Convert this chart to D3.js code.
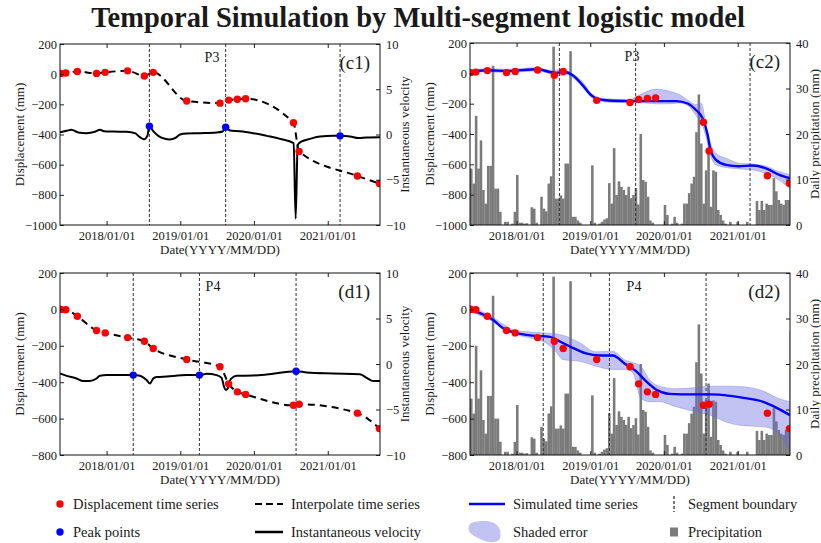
<!DOCTYPE html>
<html>
<head>
<meta charset="utf-8">
<script src="https://cdn.jsdelivr.net/npm/d3@7"></script>
<style>
  body { margin: 0; background: #fff; }
  svg { display: block; }
  text { font-family: "Liberation Serif", "Times New Roman", serif; fill: #1a1a1a; }
</style>
</head>
<body>
<svg id="chart" width="821" height="543"></svg>
<script>
const parse = d3.utcParse("%Y-%m-%d");

// ---- time frame shared by all panels ----
const timeDomain = ["2017-05-15", "2021-09-17"];
const yearTicks = ["2018-01-01", "2019-01-01", "2020-01-01", "2021-01-01"];

// ---- InSAR acquisitions (same dates for P3 and P4) ----
const obsDates = ["2017-05-19","2017-06-13","2017-08-09","2017-11-12","2017-12-25","2018-04-15",
  "2018-07-07","2018-08-20","2019-02-02","2019-07-17","2019-08-29","2019-10-11","2019-11-21",
  "2020-07-15","2020-08-12","2021-05-28","2021-09-14"];
const p3Disp = [5, 8, 18, 5, 12, 22, -12, 12, -178, -192, -172, -166, -163, -322, -512, -675, -725];
const p4Disp = [0, -2, -38, -116, -129, -155, -175, -215, -275, -315, -409, -453, -467, -527, -521, -570, -655];

// ---- segment boundaries and velocity peaks ----
const p3Segments = ["2018-08-01", "2019-08-14", "2021-03-03"];
const p3PeakVel = [0.92, 0.81, -0.15];
const p4Segments = ["2018-05-13", "2019-04-06", "2020-07-28"];
const p4PeakVel = [-1.22, -1.22, -0.79];

// ---- instantaneous velocity ----
const p3VelDates = ["2017-05-15","2017-06-17","2017-07-11","2017-08-14","2017-09-24","2017-11-04",
  "2017-11-29","2017-12-19","2018-02-03","2018-04-10","2018-05-21","2018-06-15","2018-07-05",
  "2018-07-22","2018-08-01","2018-08-20","2018-09-14","2018-10-17","2018-11-11","2018-12-06",
  "2018-12-31","2019-02-02","2019-04-09","2019-06-30","2019-07-30","2019-08-14","2019-09-05",
  "2019-10-24","2019-12-29","2020-03-04","2020-05-10","2020-07-16","2020-07-26","2020-08-05",
  "2020-08-25","2020-10-05","2020-11-24","2021-01-28","2021-03-03","2021-04-22","2021-06-02",
  "2021-07-13","2021-09-17"];
const p3Vel = [0.26, 0.41, 0.52, 0.22, 0.15, 0.3, 0.52, 0.37, 0.33, 0.3, 0.15, -0.3, -0.52,
  -0.15, 0.92, 0.37, -0.15, -0.48, -0.55, -0.41, 0, 0.11, 0.15, 0.22, 0.33, 0.81, 0.44,
  0.37, 0.15, -0.15, -0.48, -0.95, -9.3, -1.15, -0.77, -0.48, -0.22, -0.15, -0.15, -0.22, -0.4,
  -0.33, -0.3];

const p4VelDates = ["2017-05-15","2017-06-17","2017-08-05","2017-09-07","2017-10-10","2017-11-12",
  "2017-11-29","2018-01-01","2018-05-13","2018-06-15","2018-07-18","2018-08-04","2018-08-20",
  "2018-09-06","2018-10-26","2019-02-02","2019-04-06","2019-05-12","2019-06-30","2019-07-25",
  "2019-08-06","2019-08-16","2019-08-26","2019-09-08","2019-10-08","2019-12-29","2020-03-04",
  "2020-07-28","2020-09-19","2021-01-28","2021-06-10","2021-07-13","2021-08-15","2021-09-17"];
const p4Vel = [-1.04, -1.3, -1.59, -1.88, -1.88, -1.59, -1.3, -1.22, -1.22, -1.3, -1.77, -2.14,
  -1.59, -1.44, -1.37, -1.22, -1.22, -1.08, -1.22, -1.52, -2.5, -2.87, -2.61, -1.66, -1.3,
  -1.26, -1.15, -0.79, -0.93, -1.04, -1.12, -1.52, -1.88, -1.88];

// ---- simulated displacement (multi-segment logistic) ----
const p3SimDates = ["2017-05-15","2017-08-02","2017-11-17","2018-04-15","2018-06-15","2018-07-15",
  "2018-08-25","2018-10-06","2018-11-24","2019-01-05","2019-02-15","2019-04-22","2019-07-17",
  "2020-03-01","2020-04-28","2020-06-08","2020-07-11","2020-08-05","2020-08-17","2020-09-15",
  "2020-11-04","2021-01-07","2021-03-16","2021-05-21","2021-07-26","2021-09-17"];
const p3Sim = [9, 20, 16, 27, 9, 3, 9, -12, -78, -144, -172, -181, -183, -183, -199, -242, -297,
  -407, -494, -571, -604, -613, -608, -626, -669, -691];

const p3BandDates = ["2017-05-15","2017-08-02","2017-11-17","2018-04-15","2018-06-15","2018-08-01",
  "2018-09-06","2018-10-26","2018-11-28","2019-01-05","2019-02-15","2019-04-22","2019-07-17",
  "2019-08-16","2019-10-04","2019-11-23","2020-01-28","2020-03-18","2020-04-28","2020-06-08",
  "2020-07-05","2020-07-28","2020-08-17","2020-09-15","2020-11-04","2021-01-09","2021-03-16",
  "2021-05-21","2021-07-26","2021-09-17"];
const p3Upper = [18, 31, 27, 38, 20, 22, 16, -22, -62, -131, -162, -170, -172, -155, -122, -104,
  -118, -140, -177, -205, -199, -340, -453, -529, -560, -593, -598, -612, -648, -668];
const p3Lower = [0, 9, 5, 16, -2, -16, -10, -50, -98, -157, -183, -192, -192, -194, -196, -201,
  -201, -196, -212, -278, -332, -420, -534, -604, -621, -630, -637, -660, -705, -760];

const p4SimDates = ["2017-05-15","2017-06-30","2017-09-04","2017-10-24","2017-12-29","2018-03-21",
  "2018-06-15","2018-08-01","2018-10-06","2018-12-11","2019-02-15","2019-04-22","2019-06-27",
  "2019-08-16","2019-10-04","2019-11-23","2020-01-28","2020-05-23","2020-08-17","2020-11-24",
  "2021-01-28","2021-05-08","2021-07-13","2021-09-17"];
const p4Sim = [3, -19, -56, -102, -129, -144, -151, -175, -211, -242, -253, -253, -303, -339,
  -394, -440, -464, -467, -467, -475, -486, -508, -541, -581];

const p4BandDates = ["2017-05-15","2017-09-04","2017-12-29","2018-03-21","2018-05-26","2018-07-15",
  "2018-08-17","2018-11-08","2019-01-29","2019-04-22","2019-06-27","2019-07-30","2019-09-10",
  "2019-10-21","2019-12-09","2020-03-01","2020-05-23","2020-08-17","2020-11-24","2021-01-28",
  "2021-05-08","2021-07-13","2021-09-17"];
const p4Upper = [23, -43, -116, -125, -129, -135, -142, -182, -233, -230, -281, -292, -315, -385,
  -422, -436, -431, -422, -422, -425, -449, -485, -507];
const p4Lower = [-10, -65, -138, -160, -184, -233, -275, -285, -312, -330, -330, -348, -489, -507,
  -507, -535, -559, -581, -626, -639, -645, -672, -781];

// ---- daily precipitation, one bar per 12-day interval ----
const rainStart = "2017-05-15";
const rainStepDays = 12;
const rainfall = [12.4, 9.1, 24, 12.4, 18.6, 7.7, 4.7, 13, 13, 35, 8, 8, 2.9, 0, 0.7, 0.7, 0, 0.3,
  2.9, 11, 0.5, 0.5, 0.3, 0.4, 0, 3.9, 3.6, 0.5, 0, 6.2, 3.6, 3, 9.1, 10.7, 39.2, 5.8, 5.8, 6.5,
  5.8, 13.5, 13.5, 38.2, 1.8, 1.8, 1, 0.5, 0, 0, 0, 0, 13.1, 0.5, 0, 0.3, 0.7, 1.2, 1.5, 9.2, 4.7,
  16.9, 6.6, 9.6, 8.4, 7.7, 6.6, 8.4, 5.9, 6.6, 8.1, 4.5, 20, 9.9, 9.5, 6.2, 1, 0.5, 0, 0, 0, 0,
  4.4, 2.2, 0, 0.3, 1.8, 0.5, 0, 0.3, 4.7, 4.7, 7, 9.1, 10.6, 20.4, 28.7, 17.9, 4.7, 12, 15.7, 4,
  12, 11.7, 3.3, 2.2, 1, 0.3, 0, 0.7, 0, 0, 0.7, 0, 0, 0, 0.7, 0, 0, 0, 5.3, 3.3, 5.3, 3.3, 4.7,
  4.4, 4.4, 10.3, 7.4, 5.5, 4.7, 4.4, 5.5, 5.5, 27.4];

// ---- axis ticks ----
const dispTicksP3 = [-1000, -800, -600, -400, -200, 0, 200];
const dispTicksP4 = [-800, -600, -400, -200, 0, 200];
const velTicks = [-10, -5, 0, 5, 10];
const rainTicks = [0, 10, 20, 30, 40];

// ================= drawing =================
const svg = d3.select("#chart");
const pairs = (dates, vals) => dates.map((d, i) => ({ date: parse(d), v: vals[i] }));
const intFmt = d3.format("d");

svg.append("text")
  .attr("x", 418).attr("y", 27)
  .attr("text-anchor", "middle")
  .style("font-size", "28.5px").style("font-weight", "bold")
  .text("Temporal Simulation by Multi-segment logistic model");

function makePanel(o) {
  const x = d3.scaleUtc().domain(timeDomain.map(parse)).range([o.l, o.r]);
  const y = d3.scaleLinear().domain(o.yDom).range([o.b, o.t]);
  const y2 = d3.scaleLinear().domain(o.y2Dom).range([o.b, o.t]);
  const id = "clip-" + o.tag.replace(/[()]/g, "");
  svg.append("clipPath").attr("id", id).append("rect")
    .attr("x", o.l).attr("y", o.t).attr("width", o.r - o.l).attr("height", o.b - o.t);
  const g = svg.append("g");
  const plot = g.append("g").attr("clip-path", `url(#${id})`);
  return { x, y, y2, g, plot, o };
}

function styleAxis(sel) {
  sel.attr("font-family", null).attr("font-size", null);
  sel.selectAll("text").style("font-size", "12.5px").attr("fill", "#1a1a1a");
  sel.selectAll("line").attr("stroke", "#222");
  sel.select(".domain").remove();
}

function finishPanel(P) {
  const { x, y, y2, g, o } = P;
  g.append("g").attr("transform", `translate(${o.l},0)`)
    .call(d3.axisLeft(y).tickValues(o.yTicks).tickFormat(intFmt).tickSize(-4).tickPadding(3))
    .call(styleAxis);
  g.append("g").attr("transform", `translate(${o.r},0)`)
    .call(d3.axisRight(y2).tickValues(o.y2Ticks).tickFormat(intFmt).tickSize(-4).tickPadding(6))
    .call(styleAxis);
  g.append("g").attr("transform", `translate(0,${o.b})`)
    .call(d3.axisBottom(x).tickValues(yearTicks.map(parse))
      .tickFormat(d3.utcFormat("%Y/%m/%d")).tickSize(-4).tickPadding(6)).call(styleAxis);
  g.append("g").attr("transform", `translate(0,${o.t})`)
    .call(d3.axisTop(x).tickValues(yearTicks.map(parse)).tickFormat(() => "").tickSize(-4))
    .call(styleAxis);
  g.append("rect").attr("x", o.l).attr("y", o.t)
    .attr("width", o.r - o.l).attr("height", o.b - o.t)
    .attr("fill", "none").attr("stroke", "#111").attr("stroke-width", 1);

  const cy = (o.t + o.b) / 2;
  g.append("text").attr("transform", `translate(${o.l - 36},${cy}) rotate(-90)`)
    .attr("text-anchor", "middle").style("font-size", "13px").text("Displacement (mm)");
  g.append("text").attr("transform", `translate(${o.r + 29},${cy}) rotate(-90)`)
    .attr("text-anchor", "middle").style("font-size", "13px").text(o.rightLabel);
  g.append("text").attr("x", (o.l + o.r) / 2).attr("y", o.b + 29)
    .attr("text-anchor", "middle").style("font-size", "13px").text("Date(YYYY/MM/DD)");
  g.append("text").attr("x", o.pointX).attr("y", o.t + 18)
    .attr("text-anchor", "middle").style("font-size", "14px").text(o.point);
  g.append("text").attr("x", o.r - 10).attr("y", o.t + 25)
    .attr("text-anchor", "end").style("font-size", "19px").text(o.tag);
}

function drawSegments(P, segs) {
  P.plot.selectAll(null).data(segs.map(parse)).join("line")
    .attr("x1", d => P.x(d)).attr("x2", d => P.x(d))
    .attr("y1", P.o.t).attr("y2", P.o.b)
    .attr("stroke", "#333").attr("stroke-width", 1).attr("stroke-dasharray", "3,2");
}

function drawDots(P, dates, vals, color, scale) {
  P.plot.selectAll(null).data(pairs(dates, vals)).join("circle")
    .attr("cx", d => P.x(d.date)).attr("cy", d => scale(d.v))
    .attr("r", 3.7).attr("fill", color);
}

// velocity panels (c1, d1)
function velocityPanel(o, disp, velDates, vel, segs, peaks) {
  const P = makePanel(o);
  drawSegments(P, segs);
  P.plot.append("path").datum(pairs(velDates, vel))
    .attr("fill", "none").attr("stroke", "#000").attr("stroke-width", 2)
    .attr("d", d3.line().x(d => P.x(d.date)).y(d => P.y2(d.v)).curve(d3.curveMonotoneX));
  P.plot.append("path").datum(pairs(obsDates, disp))
    .attr("fill", "none").attr("stroke", "#000").attr("stroke-width", 2)
    .attr("stroke-dasharray", "7,5")
    .attr("d", d3.line().x(d => P.x(d.date)).y(d => P.y(d.v)).curve(d3.curveMonotoneX));
  drawDots(P, obsDates, disp, "#ff0000", P.y);
  drawDots(P, segs, peaks, "#0000ff", P.y2);
  finishPanel(P);
}

// simulation panels (c2, d2)
function simulationPanel(o, disp, simDates, sim, bandDates, upper, lower, segs) {
  const P = makePanel(o);
  const rain = rainfall.map((v, i) => ({
    d0: d3.utcDay.offset(parse(rainStart), i * rainStepDays),
    d1: d3.utcDay.offset(parse(rainStart), (i + 1) * rainStepDays), v }));
  P.plot.selectAll(null).data(rain).join("rect")
    .attr("x", d => P.x(d.d0)).attr("width", d => P.x(d.d1) - P.x(d.d0) + 0.15)
    .attr("y", d => P.y2(d.v)).attr("height", d => P.y2(0) - P.y2(d.v))
    .attr("fill", "#7b7b7b");
  const band = bandDates.map((d, i) => ({ date: parse(d), hi: upper[i], lo: lower[i] }));
  P.plot.append("path").datum(band)
    .attr("fill", "#6a6ae0").attr("fill-opacity", 0.4)
    .attr("stroke", "#7070d0").attr("stroke-width", 0.6).attr("stroke-opacity", 0.6)
    .attr("d", d3.area().x(d => P.x(d.date)).y0(d => P.y(d.lo)).y1(d => P.y(d.hi))
      .curve(d3.curveMonotoneX));
  drawSegments(P, segs);
  P.plot.append("path").datum(pairs(simDates, sim))
    .attr("fill", "none").attr("stroke", "#0000ff").attr("stroke-width", 2.4)
    .attr("d", d3.line().x(d => P.x(d.date)).y(d => P.y(d.v)).curve(d3.curveMonotoneX));
  drawDots(P, obsDates, disp, "#ff0000", P.y);
  finishPanel(P);
}

velocityPanel({ tag: "(c1)", point: "P3", pointX: 212, l: 60, r: 380, t: 44, b: 225,
  yDom: [-1000, 200], yTicks: dispTicksP3, y2Dom: [-10, 10], y2Ticks: velTicks,
  rightLabel: "Instantaneous velocity" }, p3Disp, p3VelDates, p3Vel, p3Segments, p3PeakVel);

simulationPanel({ tag: "(c2)", point: "P3", pointX: 632, l: 470, r: 790, t: 43, b: 225,
  yDom: [-1000, 200], yTicks: dispTicksP3, y2Dom: [0, 40], y2Ticks: rainTicks,
  rightLabel: "Daily precipitation (mm)" },
  p3Disp, p3SimDates, p3Sim, p3BandDates, p3Upper, p3Lower, p3Segments);

velocityPanel({ tag: "(d1)", point: "P4", pointX: 213, l: 60, r: 380, t: 273, b: 455,
  yDom: [-800, 200], yTicks: dispTicksP4, y2Dom: [-10, 10], y2Ticks: velTicks,
  rightLabel: "Instantaneous velocity" }, p4Disp, p4VelDates, p4Vel, p4Segments, p4PeakVel);

simulationPanel({ tag: "(d2)", point: "P4", pointX: 634, l: 470, r: 790, t: 273, b: 455,
  yDom: [-800, 200], yTicks: dispTicksP4, y2Dom: [0, 40], y2Ticks: rainTicks,
  rightLabel: "Daily precipitation (mm)" },
  p4Disp, p4SimDates, p4Sim, p4BandDates, p4Upper, p4Lower, p4Segments);

// ---- legend ----
const lg = svg.append("g");
const row1 = 504, row2 = 532;
const lgText = (xp, yp, s) => lg.append("text").attr("x", xp).attr("y", yp + 4.5)
  .style("font-size", "14.5px").text(s);

lg.append("circle").attr("cx", 60).attr("cy", row1).attr("r", 3.7).attr("fill", "#ff0000");
lgText(73, row1, "Displacement time series");
lg.append("line").attr("x1", 255).attr("x2", 283).attr("y1", row1).attr("y2", row1)
  .attr("stroke", "#000").attr("stroke-width", 2.2).attr("stroke-dasharray", "7,4");
lgText(291, row1, "Interpolate time series");
lg.append("line").attr("x1", 469).attr("x2", 505).attr("y1", row1).attr("y2", row1)
  .attr("stroke", "#0000ff").attr("stroke-width", 2.5);
lgText(513, row1, "Simulated time series");
lg.append("line").attr("x1", 674).attr("x2", 674).attr("y1", row1 - 8).attr("y2", row1 + 8)
  .attr("stroke", "#222").attr("stroke-width", 1.2).attr("stroke-dasharray", "3,2");
lgText(688, row1, "Segment boundary");

lg.append("circle").attr("cx", 60).attr("cy", row2).attr("r", 3.7).attr("fill", "#0000ff");
lgText(73, row2, "Peak points");
lg.append("line").attr("x1", 255).attr("x2", 283).attr("y1", row2).attr("y2", row2)
  .attr("stroke", "#000").attr("stroke-width", 2.5);
lgText(291, row2, "Instantaneous velocity");
const blob = [[470, 524], [482, 521], [494, 523], [500, 530], [499, 540], [489, 542], [478, 538], [469, 531]];
lg.append("path").datum(blob)
  .attr("d", d3.line().curve(d3.curveCatmullRomClosed))
  .attr("fill", "#6a6ae0").attr("fill-opacity", 0.4);
lgText(513, row2, "Shaded error");
lg.append("rect").attr("x", 670).attr("y", row2 - 4.5).attr("width", 8).attr("height", 9)
  .attr("fill", "#7b7b7b");
lgText(688, row2, "Precipitation");
</script>
</body>
</html>
